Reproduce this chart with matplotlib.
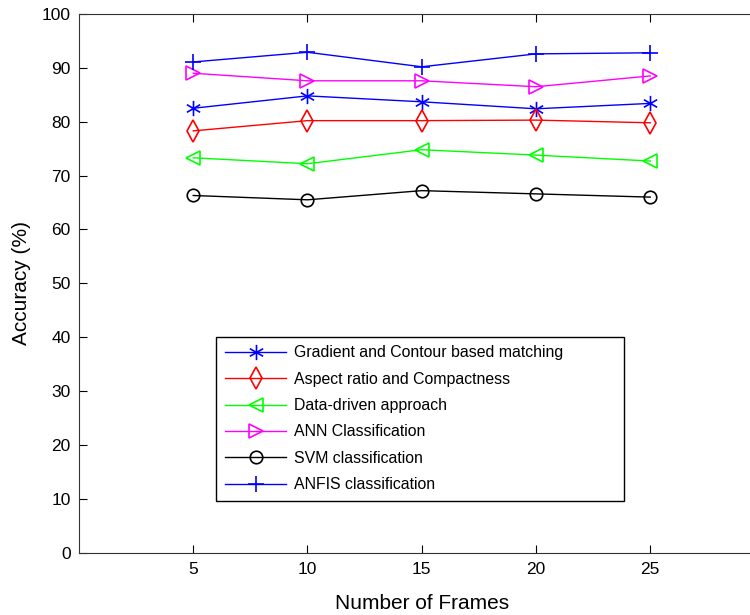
import numpy as np
import matplotlib
matplotlib.use('Agg')
import matplotlib.pyplot as plt
from matplotlib.path import Path

plt.rcParams['font.family'] = ['Liberation Sans', 'DejaVu Sans']

frames = [5, 10, 15, 20, 25]
gradient = [82.5, 84.8, 83.7, 82.4, 83.4]
aspect = [78.3, 80.2, 80.2, 80.3, 79.8]
data_driven = [73.3, 72.2, 74.8, 73.8, 72.7]
ann = [89.0, 87.6, 87.6, 86.5, 88.5]
svm = [66.3, 65.5, 67.2, 66.6, 66.0]
anfis = [91.1, 92.9, 90.2, 92.6, 92.8]

labels = ['Gradient and Contour based matching', 'Aspect ratio and Compactness',
          'Data-driven approach', 'ANN Classification', 'SVM classification',
          'ANFIS classification']

# MATLAB-style asterisk: vertical stroke plus two diagonals
c, s = np.cos(np.pi / 6), np.sin(np.pi / 6)
asterisk = Path([(0, -1), (0, 1), (-c, -s), (c, s), (-c, s), (c, -s)],
                [Path.MOVETO, Path.LINETO] * 3)

fig = plt.figure(figsize=(7.5, 6.15), dpi=100)
ax = fig.add_axes([0.1053, 0.1016, 0.914, 0.8756])

series = [gradient, aspect, data_driven, ann, svm, anfis]
styles = [('#0000ff', asterisk, 11), ('#ff0000', 'd', 11), ('#00ff00', '<', 10),
          ('#ff00ff', '>', 10), ('#000000', 'o', 9), ('#0000ff', '+', 12)]
for vals, lab, (col, mk, ms) in zip(series, labels, styles):
    ax.plot(frames, vals, color=col, marker=mk, markersize=ms, markerfacecolor='none',
            markeredgecolor=col, markeredgewidth=1.2, linewidth=1.0, label=lab)

ax.set_xlim(0, 30)
ax.set_ylim(0, 100)
ax.set_xticks(frames)
ax.set_yticks(range(0, 101, 10))
ax.tick_params(direction='in', length=6, top=True, labelsize=12.5)
ax.tick_params(axis='x', pad=7)
ax.tick_params(axis='y', pad=6)
ax.set_xlabel('Number of Frames', fontsize=15, labelpad=12)
ax.set_ylabel('Accuracy (%)', fontsize=15, labelpad=8)
for sp in ax.spines.values():
    sp.set_color('#333333')

leg = ax.legend(loc='lower left', bbox_to_anchor=(216 / 750, 114 / 615, 408 / 750, 165 / 615),
                bbox_transform=fig.transFigure, mode='expand', borderaxespad=0,
                fontsize=11.4, fancybox=False, edgecolor='black', framealpha=1,
                handlelength=3.9, handletextpad=0.45, labelspacing=0.72, borderpad=0.55)
leg.get_frame().set_linewidth(1.0)

fig.savefig('out.png', dpi=100)
